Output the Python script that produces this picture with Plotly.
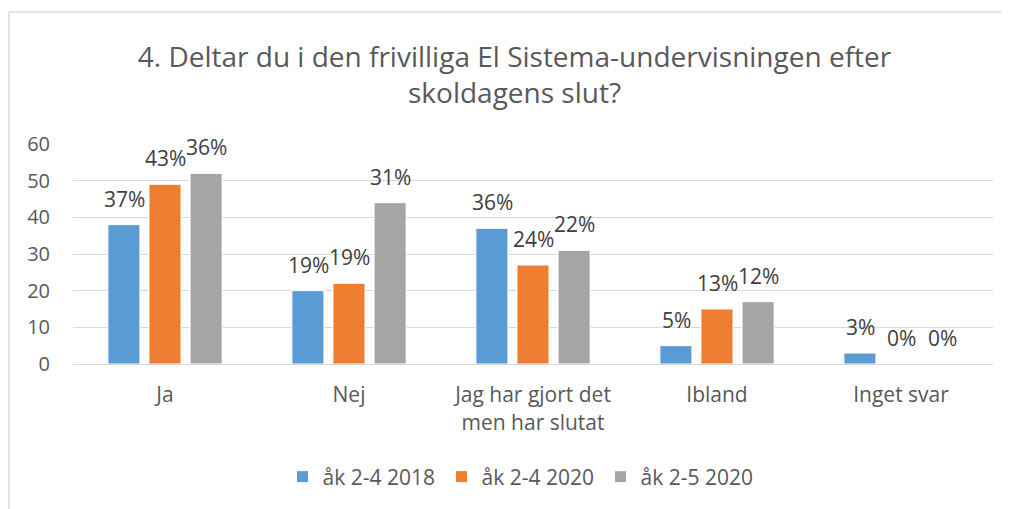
import plotly.graph_objects as go

categories = ["Ja", "Nej", "Jag har gjort det<br>men har slutat", "Ibland", "Inget svar"]
series_names = ["åk 2-4 2018", "åk 2-4 2020", "åk 2-5 2020"]
values_2018 = [38, 20, 37, 5, 3]
values_2020 = [49, 22, 27, 15, 0]
values_2020b = [52, 44, 31, 17, 0]
labels_2018 = ["37%", "19%", "36%", "5%", "3%"]
labels_2020 = ["43%", "19%", "24%", "13%", "0%"]
labels_2020b = ["36%", "31%", "22%", "12%", "0%"]
colors = ["#5B9BD5", "#ED7D31", "#A5A5A5"]

all_values = [values_2018, values_2020, values_2020b]
all_labels = [labels_2018, labels_2020, labels_2020b]

FONT = "Open Sans"
TXT = "#595959"

# page body has an 8px margin; figure is sized so it fits the 1009x509 window
W, H = 1001, 501
L, T, R, B = 65, 136, 16, 145

fig = go.Figure()
for name, vals, col in zip(series_names, all_values, colors):
    fig.add_trace(go.Bar(
        x=categories, y=vals, name=name,
        marker=dict(color=col, line=dict(color="white", width=1)),
        hoverinfo="skip",
    ))

annotations = []
offsets = [-41, 0, 41]
for vals, labs, off in zip(all_values, all_labels, offsets):
    for c, v, t in zip(categories, vals, labs):
        annotations.append(dict(
            x=c, y=v, xref="x", yref="y", text=t, showarrow=False,
            xshift=off, yshift=26, yanchor="middle", xanchor="center",
            font=dict(family=FONT, size=21, color="#404040"),
        ))

plot_h = H - T - B
fig.update_layout(
    width=W, height=H,
    margin=dict(l=L, r=R, t=T, b=B),
    paper_bgcolor="white", plot_bgcolor="white",
    barmode="group", bargap=0.33, bargroupgap=0.22,
    title=dict(
        text="4. Deltar du i den frivilliga El Sistema-undervisningen efter<br>skoldagens slut?",
        x=0.506, xanchor="center", y=1 - 59 / H, yanchor="middle",
        font=dict(family=FONT, size=28, color=TXT),
    ),
    font=dict(family=FONT, color=TXT),
    xaxis=dict(
        showgrid=False, showline=True, linecolor="#d9d9d9", linewidth=1,
        ticks="", tickfont=dict(family=FONT, size=21, color=TXT),
        ticklabelstandoff=12,
    ),
    yaxis=dict(
        range=[0, 60], dtick=10, showgrid=True, gridcolor="#d9d9d9", gridwidth=1,
        zeroline=True, zerolinecolor="#d9d9d9", zerolinewidth=1,
        showline=False, ticks="", tickfont=dict(family=FONT, size=20, color=TXT),
        ticklabelstandoff=22,
    ),
    legend=dict(
        orientation="h", x=0.487, xanchor="center", y=-113 / plot_h, yanchor="middle",
        font=dict(family=FONT, size=21, color=TXT), traceorder="normal",
        itemwidth=30, entrywidth=114, entrywidthmode="pixels",
    ),
    annotations=annotations,
    shapes=[
        dict(type="line", xref="paper", yref="paper",
             x0=(9 - 73) / 920, x1=(9 - 73) / 920, y0=-2, y1=1 + (144 - 12) / 220,
             line=dict(color="#d9d9d9", width=1.5)),
        dict(type="line", xref="paper", yref="paper",
             x0=(9 - 73) / 920, x1=1.05, y0=1 + (144 - 12) / 220, y1=1 + (144 - 12) / 220,
             line=dict(color="#d9d9d9", width=1.5)),
    ],
)

fig.write_html("out.html")
